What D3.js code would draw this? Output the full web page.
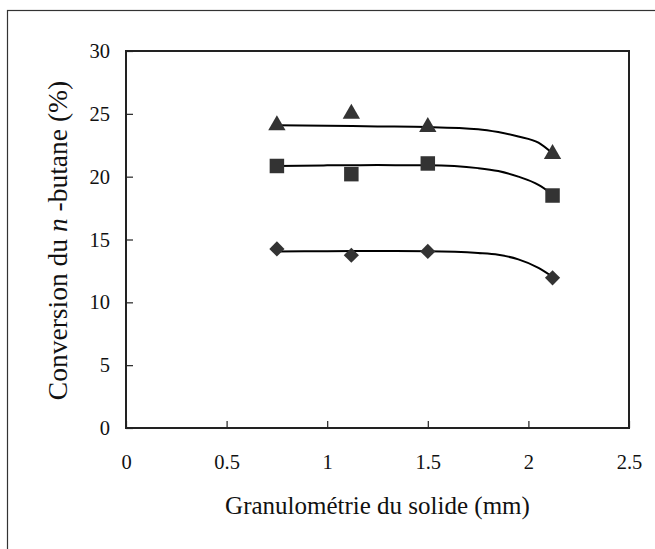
<!DOCTYPE html>
<html>
<head>
<meta charset="utf-8">
<script src="https://cdn.jsdelivr.net/npm/d3@7"></script>
<style>
  body { margin: 0; background: #fff; }
  svg, svg text { font-family: "Liberation Serif", "DejaVu Serif", serif; }
</style>
</head>
<body>
<div id="chart"></div>
<script>
// Measured points (grain size in mm, conversion in %)
const granulo = [0.75, 1.12, 1.5, 2.12];
const triangles = [24.1, 25.0, 23.95, 21.8];
const squares = [20.85, 20.2, 21.05, 18.5];
const diamonds = [14.25, 13.75, 14.05, 11.95];

// Trend curves
const curveX = [0.75, 1.0, 1.25, 1.5, 1.75, 1.85, 1.95, 2.05, 2.12];
const curveTriangles = [24.1, 24.05, 24.0, 23.95, 23.78, 23.55, 23.2, 22.7, 21.85];
const curveSquares = [20.85, 20.9, 20.92, 20.9, 20.68, 20.45, 20.0, 19.35, 18.6];
const curveDiamonds = [14.05, 14.07, 14.08, 14.06, 13.92, 13.78, 13.42, 12.75, 12.04];

const xTicks = [0, 0.5, 1, 1.5, 2, 2.5];
const yTicks = [0, 5, 10, 15, 20, 25, 30];

const width = 655;
const height = 549;
const margin = { top: 51, right: 26, bottom: 121, left: 126 };
const serif = "'Liberation Serif', 'DejaVu Serif', serif";

const svg = d3.select("#chart")
    .append("svg")
    .attr("width", width)
    .attr("height", height)
    .attr("font-family", serif);

// outer frame (runs off the right and bottom edge)
svg.append("rect")
    .attr("x", 7.5).attr("y", 10.5)
    .attr("width", 700).attr("height", 600)
    .attr("fill", "none")
    .attr("stroke", "#333")
    .attr("stroke-width", 1.2);

const x = d3.scaleLinear().domain([0, 2.5]).range([margin.left, width - margin.right]);
const y = d3.scaleLinear().domain([0, 30]).range([height - margin.bottom, margin.top]);

// axes with inward ticks
const xAxis = svg.append("g")
    .attr("transform", `translate(0,${y(0)})`)
    .call(d3.axisBottom(x).tickValues(xTicks).tickSize(-7).tickPadding(26).tickFormat(d3.format("")));
const yAxis = svg.append("g")
    .attr("transform", `translate(${x(0)},0)`)
    .call(d3.axisLeft(y).tickValues(yTicks).tickSize(-7).tickPadding(16));

[xAxis, yAxis].forEach(g => {
    g.attr("font-family", serif).attr("font-size", 20.5);
    g.select(".domain").remove();
    g.selectAll(".tick line").attr("stroke", "#222").attr("stroke-width", 1.2);
    g.selectAll(".tick text").attr("fill", "#111");
});

// plot frame
svg.append("rect")
    .attr("x", x(0)).attr("y", y(30))
    .attr("width", x(2.5) - x(0)).attr("height", y(0) - y(30))
    .attr("fill", "none")
    .attr("stroke", "#222")
    .attr("stroke-width", 2);

// trend curves
const line = d3.line()
    .x(d => x(d[0]))
    .y(d => y(d[1]))
    .curve(d3.curveMonotoneX);

[curveTriangles, curveSquares, curveDiamonds].forEach(vals => {
    svg.append("path")
        .datum(curveX.map((v, i) => [v, vals[i]]))
        .attr("d", line)
        .attr("fill", "none")
        .attr("stroke", "#000")
        .attr("stroke-width", 2);
});

// markers
const markerColor = "#333";
const series = [
    { values: triangles, symbol: d3.symbolTriangle, size: 130, rotate: 0 },
    { values: squares, symbol: d3.symbolSquare, size: 210, rotate: 0 },
    { values: diamonds, symbol: d3.symbolSquare, size: 115, rotate: 45 }
];

series.forEach(s => {
    svg.append("g")
        .selectAll("path")
        .data(granulo.map((v, i) => [v, s.values[i]]))
        .enter()
        .append("path")
        .attr("d", d3.symbol().type(s.symbol).size(s.size))
        .attr("transform", d => `translate(${x(d[0])},${y(d[1])}) rotate(${s.rotate})`)
        .attr("fill", markerColor);
});

// axis titles
svg.append("text")
    .attr("x", (x(0) + x(2.5)) / 2)
    .attr("y", 514)
    .attr("text-anchor", "middle")
    .attr("font-size", 25)
    .attr("fill", "#111")
    .text("Granulométrie du solide (mm)");

const yTitle = svg.append("text")
    .attr("transform", `translate(67,${(y(0) + y(30)) / 2 + 1}) rotate(-90)`)
    .attr("text-anchor", "middle")
    .attr("font-size", 27.5)
    .attr("fill", "#111");
yTitle.append("tspan").text("Conversion du ");
yTitle.append("tspan").attr("font-style", "italic").text("n");
yTitle.append("tspan").text(" -butane (%)");
</script>
</body>
</html>
